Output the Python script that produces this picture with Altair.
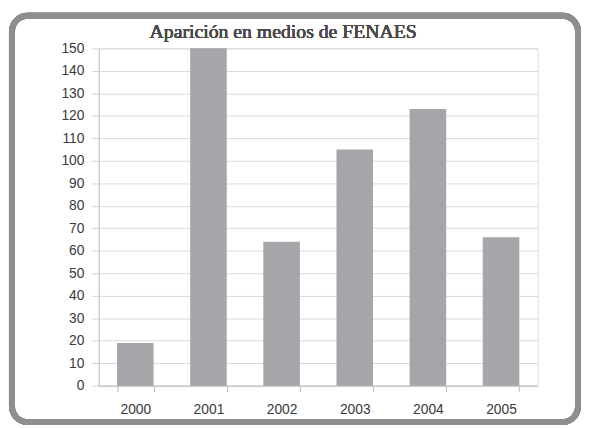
import altair as alt
import pandas as pd

years = ["2000", "2001", "2002", "2003", "2004", "2005"]
counts = [19, 150, 64, 105, 123, 66]
title_text = "Aparición en medios de FENAES"
y_ticks = list(range(0, 151, 10))

df = pd.DataFrame({"year": years, "count": counts})

W, H = 445, 342

bars = alt.Chart(df).mark_bar(color="#a4a6a9").encode(
    x=alt.X("year:N", sort=years,
            scale=alt.Scale(paddingInner=0.5, paddingOuter=0.25),
            axis=alt.Axis(title=None, labelAngle=0, tickBand="extent",
                          domainColor="#bdbdbd", tickColor="#bdbdbd", tickSize=6,
                          labelPadding=11, labelFont="Liberation Sans",
                          labelFontSize=14, labelColor="#3a3a3a", grid=False)),
    y=alt.Y("count:Q", scale=alt.Scale(domain=[0, 150], nice=False),
            axis=alt.Axis(title=None, values=y_ticks, tickSize=7,
                          labelPadding=8, domainColor="#c4c4c4",
                          tickColor="#d4d4d4", gridColor="#d9d9d9",
                          labelFont="Liberation Sans", labelFontSize=14,
                          labelColor="#3a3a3a")),
)

frame = alt.Chart(df).mark_rect(
    fill=None, stroke="#8e8e8e", strokeWidth=6, cornerRadius=16, clip=False
).encode(
    x=alt.value(-88), x2=alt.value(486), y=alt.value(-33), y2=alt.value(379)
)

title = alt.Chart(df).mark_text(
    font="Liberation Serif", fontSize=20, fontWeight="normal", color="#4a4a4a",
    align="center", baseline="alphabetic"
).encode(
    x=alt.value(187), y=alt.value(-11), text=alt.value(title_text)
)

chart = alt.layer(frame, bars, title).properties(
    width=W, height=H,
    autosize=alt.AutoSizeParams(type="none"),
    padding={"left": 92, "top": 38, "right": 45, "bottom": 40},
).configure_view(stroke=None).configure(background="white")

chart.save("out.html", embed_options={"renderer": "svg", "actions": False})
